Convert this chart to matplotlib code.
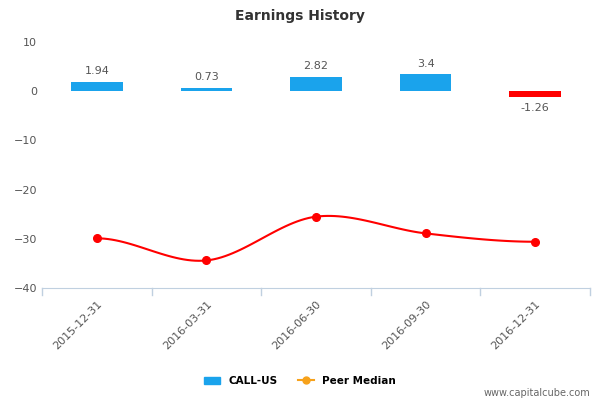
import numpy as np
import matplotlib
matplotlib.use("Agg")
import matplotlib.pyplot as plt
from matplotlib.lines import Line2D
from matplotlib.patches import Patch

categories = ["2015-12-31", "2016-03-31", "2016-06-30", "2016-09-30", "2016-12-31"]
eps = [1.94, 0.73, 2.82, 3.4, -1.26]
peer = [-29.9, -34.4, -25.5, -28.9, -30.6]
yticks = [10, 0, -10, -20, -30, -40]

fig = plt.figure(figsize=(6, 4), dpi=100)
ax = fig.add_axes([42/600, 1-288/400, 548/600, 246/400])
x = np.arange(len(categories))
colors = ["#1aa3ec" if v >= 0 else "#ff0000" for v in eps]
ax.bar(x, eps, width=0.47, color=colors, zorder=2)
for xi, v in zip(x, eps):
    off = 1.2 if v >= 0 else -1.2
    ax.text(xi, v + off, f"{v:g}", ha="center", va="bottom" if v >= 0 else "top",
            fontsize=8, color="#555555")

# smooth curve (Catmull-Rom through points)
xs, ys = [], []
p = np.array(peer)
for i in range(len(p) - 1):
    m0 = (p[i+1] - p[i-1]) / 2 if i > 0 else 0
    m1 = (p[i+2] - p[i]) / 2 if i + 2 < len(p) else 0
    t = np.linspace(0, 1, 30)
    h00 = 2*t**3 - 3*t**2 + 1; h10 = t**3 - 2*t**2 + t
    h01 = -2*t**3 + 3*t**2; h11 = t**3 - t**2
    xs.extend(i + t); ys.extend(h00*p[i] + h10*m0 + h01*p[i+1] + h11*m1)
ax.plot(xs, ys, color="#ff0000", lw=1.5, zorder=3)
ax.plot(x, peer, "o", color="#ff0000", ms=5.5, zorder=4)

ax.set_xlim(-0.5, len(categories) - 0.5)
ax.set_ylim(-40, 10)
ax.set_yticks(yticks)
ax.set_xticks(x)
ax.set_xticklabels(categories, rotation=45, ha="right", rotation_mode="anchor")
ax.tick_params(axis="both", labelsize=8, colors="#555555", length=0)
ax.tick_params(axis="x", pad=8)
for s in ["top", "right", "left"]:
    ax.spines[s].set_visible(False)
ax.spines["bottom"].set_color("#c0d0e0")
for b in np.arange(-0.5, len(categories), 1):
    ax.plot([b, b], [-40, -41.5], color="#c0d0e0", lw=1, clip_on=False)

fig.text(0.5, 1-16/400, "Earnings History", ha="center", va="center",
         fontsize=10, fontweight="bold", color="#333333")
handles = [Patch(color="#1aa3ec", label="CALL-US"),
           Line2D([], [], color="#f7a21b", marker="o", ms=5, label="Peer Median")]
fig.legend(handles=handles, loc="center", bbox_to_anchor=(0.5, 1-381/400), ncol=2,
           frameon=False, fontsize=7.5, handlelength=1.5,
           prop={"weight": "bold", "size": 7.5})
fig.text(590/600, 1-393/400, "www.capitalcube.com", ha="right", va="center",
         fontsize=7, color="#666666")
fig.savefig("out.png", dpi=100)
